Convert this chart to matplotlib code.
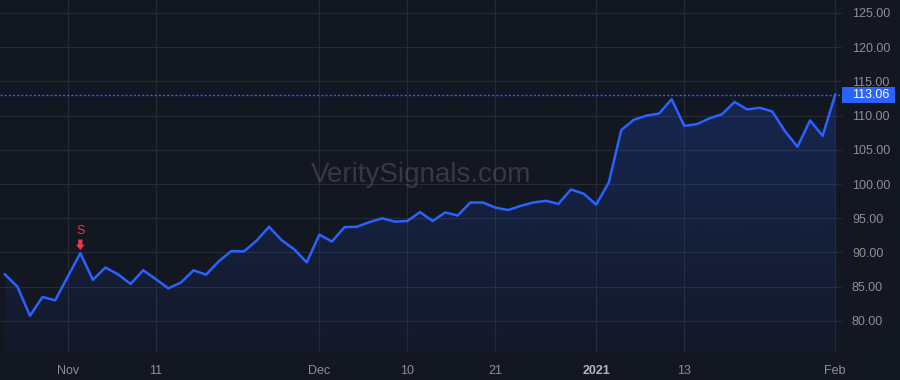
"""
Area chart of daily closes, dark trading-terminal style, saved to out.png.
"""
import matplotlib
matplotlib.use("Agg")
import matplotlib.pyplot as plt
import matplotlib.transforms as mtransforms
from matplotlib.colors import to_rgb
from matplotlib.patches import Rectangle, Polygon
import numpy as np
import pandas as pd

# trading days from 26 Oct 2020 to 1 Feb 2021 (market holidays removed)
HOLIDAYS = ["2020-11-26", "2020-12-25", "2021-01-01", "2021-01-18"]
DATES = [d for d in pd.bdate_range("2020-10-26", "2021-02-01") if d.strftime("%Y-%m-%d") not in HOLIDAYS]

CLOSE = [
    86.8, 85.0, 80.75, 83.5, 83.0, 86.45, 89.9, 86.0, 87.8, 86.8,
    85.4, 87.4, 86.1, 84.75, 85.6, 87.4, 86.75, 88.7, 90.2, 90.15,
    91.7, 93.75, 91.8, 90.45, 88.55, 92.6, 91.6, 93.7, 93.75, 94.45,
    95.0, 94.5, 94.6, 95.9, 94.6, 95.85, 95.4, 97.3, 97.3, 96.55,
    96.2, 96.8, 97.3, 97.55, 97.1, 99.2, 98.6, 97.0, 100.2, 107.9,
    109.4, 110.0, 110.3, 112.4, 108.5, 108.75, 109.6, 110.2, 112.0, 110.9,
    111.15, 110.6, 107.75, 105.45, 109.3, 107.05, 113.06,
]

SIGNAL_DATE = "2020-11-03"
SIGNAL_TEXT = "S"

X_TICK_DATES = ["2020-11-02", "2020-11-11", "2020-12-01", "2020-12-10",
                "2020-12-21", "2021-01-04", "2021-01-13", "2021-02-01"]
X_TICK_LABELS = ["Nov", "11", "Dec", "10", "21", "2021", "13", "Feb"]
Y_TICKS = [80, 85, 90, 95, 100, 105, 110, 115, 120, 125]

WATERMARK = "VeritySignals.com"

BG = "#131722"
GRID = "#262a35"
LINE = "#2962ff"
TEXT = "#8c8f99"
RED = "#f23645"

plt.rcParams["font.family"] = ["Liberation Sans", "DejaVu Sans"]

W, H = 900, 380
fig = plt.figure(figsize=(W / 100, H / 100), dpi=100, facecolor=BG)
ax = fig.add_axes([0, 28 / H, 842 / W, 352 / H], facecolor=BG)

x = np.arange(len(CLOSE))
y = np.array(CLOSE)
date_str = [d.strftime("%Y-%m-%d") for d in DATES]

xlim = (-0.381, 66.54)
ylim = (75.45, 126.9)

# gradient area under the line
verts = np.vstack([np.column_stack([x, y]), [[x[-1], ylim[0]], [x[0], ylim[0]]]])
clip = Polygon(verts, closed=True, facecolor="none", edgecolor="none", transform=ax.transData)
ax.add_patch(clip)
grad = np.zeros((256, 1, 4))
grad[:, :, :3] = to_rgb(LINE)
grad[:, 0, 3] = np.linspace(0.03, 0.22, 256)
im = ax.imshow(grad, extent=[x[0], x[-1], ylim[0], y.max()], origin="lower",
               aspect="auto", zorder=1)
im.set_clip_path(clip)

ax.plot(x, y, color=LINE, lw=1.8, zorder=3, solid_joinstyle="round")

# last value line + label box
last = CLOSE[-1]
ax.axhline(last, color=LINE, lw=1, ls=(0, (1.5, 1.5)), zorder=2)
ax.set_xlim(*xlim)
ax.set_ylim(*ylim)
px = (ylim[1] - ylim[0]) / 352
trans = mtransforms.blended_transform_factory(ax.transAxes, ax.transData)
ax.add_patch(Rectangle((1.0, last - 8 * px), 53 / 842, 16 * px, transform=trans,
                       facecolor=LINE, edgecolor="none", clip_on=False, zorder=5))
ax.text(1 + 10 / 842, last, f"{last:.2f}", transform=trans, color="white",
        fontsize=9, ha="left", va="center", zorder=6, clip_on=False)

# sell signal
si = date_str.index(SIGNAL_DATE)
ax.annotate("", xy=(si, CLOSE[si]), xytext=(0, 9.8), textcoords="offset points",
            arrowprops=dict(arrowstyle="simple,head_length=0.38,head_width=0.62,tail_width=0.3",
                            color=RED, shrinkA=0, shrinkB=2.3, lw=0), zorder=4)
ax.annotate(SIGNAL_TEXT, xy=(si, CLOSE[si]), xytext=(0, 16.3), textcoords="offset points",
            color=RED, fontsize=9, ha="center", va="center", zorder=4)

ax.text(0.5, 0.484, WATERMARK, transform=ax.transAxes, fontsize=20,
        color="#787b86", alpha=0.35, ha="center", va="baseline", zorder=2)

# axes / ticks
xt = [date_str.index(d) for d in X_TICK_DATES]
ax.set_xticks(xt)
ax.set_xticklabels(X_TICK_LABELS)
ax.set_yticks(Y_TICKS)
ax.set_yticklabels([f"{v:.2f}" for v in Y_TICKS])
ax.yaxis.tick_right()
ax.tick_params(axis="x", length=0, pad=9, labelsize=9, labelcolor=TEXT)
ax.tick_params(axis="y", length=0, pad=7.2, labelsize=9, labelcolor=TEXT)
for lab in ax.get_yticklabels():
    lab.set_horizontalalignment("left")
for lab, txt in zip(ax.get_xticklabels(), X_TICK_LABELS):
    if txt.isdigit() and len(txt) == 4:
        lab.set_fontweight("bold")
        lab.set_color("#b2b5be")

ax.grid(True, color=GRID, lw=0.8)
ax.set_axisbelow(True)
for s in ax.spines.values():
    s.set_visible(False)

fig.savefig("out.png", dpi=100, facecolor=BG)
